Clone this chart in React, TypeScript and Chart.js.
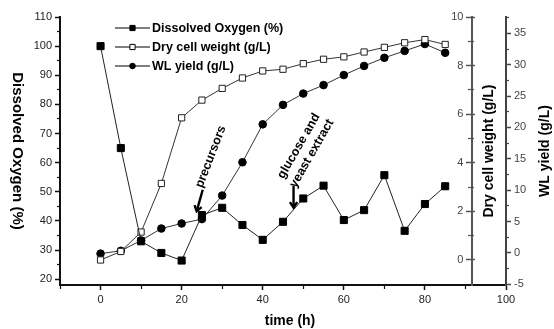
import React, { useEffect, useRef } from "react";
import { Chart, registerables } from "chart.js";

Chart.register(...registerables);

// ---------- data ----------
const times = [0, 5, 10, 15, 20, 25, 30, 35, 40, 45, 50, 55, 60, 65, 70, 75, 80, 85];
const dissolvedOxygen = [100, 65, 33, 29, 26.4, 42, 44.5, 38.6, 33.5, 39.7, 47.7, 52.1, 40.3, 43.7, 55.7, 36.6, 45.8, 51.9];
const dryCellWeight = [0, 0.35, 1.15, 3.15, 5.85, 6.58, 7.06, 7.49, 7.78, 7.85, 8.08, 8.26, 8.36, 8.56, 8.75, 8.94, 9.07, 8.87];
const wlYield = [-0.1, 0.35, 2.0, 3.9, 4.7, 5.4, 9.15, 14.45, 20.5, 23.6, 25.4, 26.75, 28.35, 29.8, 31.1, 32.2, 33.3, 31.9];

const seriesLabels = ["Dissolved Oxygen (%)", "Dry cell weight (g/L)", "WL yield (g/L)"];

const timeTicks = [0, 20, 40, 60, 80, 100];
const timeMinorTicks = [-10, 10, 30, 50, 70, 90];
const doTicks = [20, 30, 40, 50, 60, 70, 80, 90, 100, 110];
const doMinorTicks = [25, 35, 45, 55, 65, 75, 85, 95, 105];
const dcwTicks = [0, 2, 4, 6, 8, 10];
const dcwMinorTicks = [1, 3, 5, 7, 9];
const wlTicks = [-5, 0, 5, 10, 15, 20, 25, 30, 35];
const wlMinorTicks = [-2.5, 2.5, 7.5, 12.5, 17.5, 22.5, 27.5, 32.5, 37.5];

const axisTitles = {
  x: "time (h)",
  y: "Dissolved Oxygen (%)",
  yD: "Dry cell weight (g/L)",
  yW: "WL yield (g/L)",
};
const precursorsText = ["precursors"];
const glucoseText = ["glucose and", "yeast extract"];

// ---------- styling ----------
const FONT = '"Liberation Sans", Arial, Helvetica, sans-serif';
const X_MIN = -10;
const X_MAX = 100;
const DCW_AXIS_AT = 91.5;
const DCW_LABEL_AT = 89.5;
const DO_MIN = 18;
const DO_MAX = 110;
const DCW_MIN = -1.03;
const DCW_MAX = 10;
const WL_MIN = -5.1;
const WL_MAX = 37.6;

function setTicks(list: number[]) {
  return (s: any) => {
    s.ticks = list.map((v) => ({ value: v }));
  };
}

// a y-scale that only draws tick marks (to the left of the given x position)
function tickOnlyY(list: number[], at: number, min: number, max: number, color: string, len: number, width: number) {
  return {
    type: "linear",
    axis: "y",
    position: { x: at },
    min,
    max,
    bounds: "data",
    afterBuildTicks: setTicks(list),
    ticks: { display: false },
    grid: { display: true, drawOnChartArea: false, drawTicks: true, tickLength: len, tickColor: color, tickWidth: width },
    border: { display: false },
  };
}

function drawMarker(ctx: CanvasRenderingContext2D, style: string, x: number, y: number, r: number, fill: string, stroke: string) {
  ctx.save();
  ctx.lineWidth = 1;
  ctx.strokeStyle = stroke;
  ctx.fillStyle = fill;
  ctx.beginPath();
  if (style === "circle") {
    ctx.arc(x, y, r, 0, Math.PI * 2);
  } else {
    ctx.rect(x - r, y - r, 2 * r, 2 * r);
  }
  ctx.fill();
  ctx.stroke();
  ctx.restore();
}

function drawArrow(ctx: CanvasRenderingContext2D, x1: number, y1: number, x2: number, y2: number) {
  const ang = Math.atan2(y2 - y1, x2 - x1);
  const head = 6.5;
  ctx.save();
  ctx.strokeStyle = "#000";
  ctx.lineWidth = 2.4;
  ctx.beginPath();
  ctx.moveTo(x1, y1);
  ctx.lineTo(x2 - Math.cos(ang), y2 - Math.sin(ang));
  ctx.stroke();
  ctx.beginPath();
  ctx.moveTo(x2 - head * Math.cos(ang - 0.6), y2 - head * Math.sin(ang - 0.6));
  ctx.lineTo(x2, y2);
  ctx.lineTo(x2 - head * Math.cos(ang + 0.6), y2 - head * Math.sin(ang + 0.6));
  ctx.stroke();
  ctx.restore();
}

function drawRotatedLines(ctx: CanvasRenderingContext2D, lines: string[], cx: number, cy: number, deg: number, lineGap: number) {
  ctx.save();
  ctx.translate(cx, cy);
  ctx.rotate((deg * Math.PI) / 180);
  ctx.textAlign = "center";
  ctx.textBaseline = "middle";
  const n = lines.length;
  lines.forEach((t, i) => {
    ctx.fillText(t, 0, (i - (n - 1) / 2) * lineGap);
  });
  ctx.restore();
}

const decorPlugin = {
  id: "decor",
  afterDraw(chart: any) {
    const ctx: CanvasRenderingContext2D = chart.ctx;
    const area = chart.chartArea;
    const sx = chart.scales.x;
    const sy = chart.scales.y;
    const midY = (area.top + area.bottom) / 2;

    // axis titles
    ctx.save();
    ctx.fillStyle = "#000";
    ctx.font = `bold 15px ${FONT}`;
    drawRotatedLines(ctx, [axisTitles.y], 17.5, midY, 90, 0);
    ctx.font = `bold 14px ${FONT}`;
    drawRotatedLines(ctx, [axisTitles.yD], sx.getPixelForValue(DCW_AXIS_AT) + 17.5, midY, -90, 0);
    drawRotatedLines(ctx, [axisTitles.yW], chart.width - 8.5, midY, -90, 0);
    drawRotatedLines(ctx, [axisTitles.x], (area.left + area.right) / 2 + 7, chart.height - 8, 0, 0);
    ctx.restore();

    // legend (inside the plot, top-left)
    ctx.save();
    const ds = chart.data.datasets;
    const lx0 = area.left + 55;
    const lx1 = area.left + 90;
    ds.forEach((d: any, i: number) => {
      const y = area.top + 11 + i * 19;
      ctx.strokeStyle = "#000";
      ctx.lineWidth = 1;
      ctx.beginPath();
      ctx.moveTo(lx0, y);
      ctx.lineTo(lx1, y);
      ctx.stroke();
      drawMarker(ctx, d.pointStyle, (lx0 + lx1) / 2, y, d.pointStyle === "circle" ? 2.8 : 2.6, d.pointBackgroundColor, "#000");
      ctx.fillStyle = "#000";
      ctx.font = `bold 12.5px ${FONT}`;
      ctx.textAlign = "left";
      ctx.textBaseline = "middle";
      ctx.fillText(d.label, lx1 + 2, y + 0.5);
    });
    ctx.restore();

    // annotations
    ctx.save();
    ctx.fillStyle = "#000";
    ctx.font = `bold 12.5px ${FONT}`;
    drawArrow(ctx, sx.getPixelForValue(25.2), sy.getPixelForValue(50.7), sx.getPixelForValue(23.7), sy.getPixelForValue(43.3));
    drawRotatedLines(ctx, precursorsText, sx.getPixelForValue(27.2), sy.getPixelForValue(62.0), -69, 0);
    drawArrow(ctx, sx.getPixelForValue(47.6), sy.getPixelForValue(52.0), sx.getPixelForValue(47.6), sy.getPixelForValue(44.6));
    drawRotatedLines(ctx, glucoseText, sx.getPixelForValue(50.5), sy.getPixelForValue(64.4), -60, 15);
    ctx.restore();
  },
};

export default function App() {
  const ref = useRef<HTMLCanvasElement | null>(null);

  useEffect(() => {
    document.body.style.margin = "0";
    const canvas = ref.current;
    if (!canvas) return;

    const pts = (ys: number[]) => times.map((t, i) => ({ x: t, y: ys[i] }));
    const tickFont = { family: FONT, size: 11 };

    const chart = new Chart(canvas, {
      type: "line",
      data: {
        datasets: [
          {
            label: seriesLabels[0],
            data: pts(dissolvedOxygen),
            yAxisID: "y",
            borderColor: "#222",
            borderWidth: 1,
            pointStyle: "rect",
            pointRadius: 5,
            pointBackgroundColor: "#000",
            pointBorderColor: "#000",
            pointBorderWidth: 1,
            order: 0,
          },
          {
            label: seriesLabels[1],
            data: pts(dryCellWeight),
            yAxisID: "yD",
            borderColor: "#333",
            borderWidth: 1,
            pointStyle: "rect",
            pointRadius: 4.4,
            pointBackgroundColor: "#fff",
            pointBorderColor: "#222",
            pointBorderWidth: 1,
            order: 1,
          },
          {
            label: seriesLabels[2],
            data: pts(wlYield),
            yAxisID: "yW",
            borderColor: "#333",
            borderWidth: 1,
            pointStyle: "circle",
            pointRadius: 3.8,
            pointBackgroundColor: "#000",
            pointBorderColor: "#000",
            pointBorderWidth: 1,
            order: 2,
          },
        ] as any,
      },
      options: {
        animation: false,
        responsive: false,
        devicePixelRatio: 1,
        layout: { padding: { top: 17, left: 0, right: 0, bottom: 0 } },
        plugins: { legend: { display: false }, tooltip: { enabled: false } },
        scales: {
          x: {
            type: "linear",
            position: "bottom",
            min: X_MIN,
            max: X_MAX,
            bounds: "data",
            afterBuildTicks: setTicks(timeTicks),
            afterFit: (s: any) => {
              s.height = 44;
            },
            ticks: { autoSkip: false, maxRotation: 0, font: tickFont, color: "#222", padding: 3 },
            grid: { display: true, drawOnChartArea: false, drawTicks: true, tickLength: 5, tickColor: "#111", tickWidth: 1.5 },
            border: { display: true, color: "#111", width: 2 },
          },
          xMinor: {
            type: "linear",
            axis: "x",
            position: { y: DO_MIN },
            min: X_MIN,
            max: X_MAX,
            bounds: "data",
            afterBuildTicks: setTicks(timeMinorTicks),
            ticks: { display: false },
            grid: { display: true, drawOnChartArea: false, drawTicks: true, tickLength: 4, tickColor: "#111", tickWidth: 1.2 },
            border: { display: false },
          },
          y: {
            type: "linear",
            position: "left",
            min: DO_MIN,
            max: DO_MAX,
            bounds: "data",
            afterBuildTicks: setTicks(doTicks),
            afterFit: (s: any) => {
              s.width = 60;
            },
            ticks: { font: tickFont, color: "#222", padding: 3 },
            grid: { display: true, drawOnChartArea: false, drawTicks: true, tickLength: 5, tickColor: "#111", tickWidth: 1.5 },
            border: { display: true, color: "#111", width: 2 },
          },
          yMinor: tickOnlyY(doMinorTicks, X_MIN, DO_MIN, DO_MAX, "#111", 3, 1.2),
          // dry cell weight axis: line + left tick marks
          yD: {
            type: "linear",
            axis: "y",
            position: { x: DCW_AXIS_AT },
            min: DCW_MIN,
            max: DCW_MAX,
            bounds: "data",
            afterBuildTicks: setTicks(dcwTicks),
            ticks: { display: false },
            grid: { display: true, drawOnChartArea: false, drawTicks: true, tickLength: 5, tickColor: "#555", tickWidth: 1.5 },
            border: { display: true, color: "#555", width: 2 },
          },
          // dry cell weight tick labels, set left of the axis
          yDLabels: {
            type: "linear",
            axis: "y",
            position: { x: DCW_LABEL_AT },
            min: DCW_MIN,
            max: DCW_MAX,
            bounds: "data",
            afterBuildTicks: setTicks(dcwTicks),
            ticks: { display: true, font: tickFont, color: "#444", padding: 0 },
            grid: { display: false, drawOnChartArea: false, drawTicks: false },
            border: { display: false },
          },
          // ticks crossing to the right of the DCW axis
          yDRight: tickOnlyY(dcwTicks, DCW_AXIS_AT + 0.9, DCW_MIN, DCW_MAX, "#555", 3, 1.5),
          yDMinor: tickOnlyY(dcwMinorTicks, DCW_AXIS_AT + 0.7, DCW_MIN, DCW_MAX, "#555", 6, 1.2),
          yW: {
            type: "linear",
            position: "right",
            min: WL_MIN,
            max: WL_MAX,
            bounds: "data",
            afterBuildTicks: setTicks(wlTicks),
            afterFit: (s: any) => {
              s.width = 48;
            },
            ticks: { font: tickFont, color: "#444", padding: 3 },
            grid: { display: true, drawOnChartArea: false, drawTicks: true, tickLength: 5, tickColor: "#444", tickWidth: 1.5 },
            border: { display: true, color: "#444", width: 2 },
          },
          yWMinor: tickOnlyY(wlMinorTicks, X_MAX + 0.75, WL_MIN, WL_MAX, "#444", 3, 1.2),
        } as any,
      },
      plugins: [decorPlugin],
    });

    return () => {
      chart.destroy();
    };
  }, []);

  return (
    <div style={{ width: 554, height: 329 }}>
      <canvas ref={ref} width={554} height={329} style={{ display: "block" }} />
    </div>
  );
}
